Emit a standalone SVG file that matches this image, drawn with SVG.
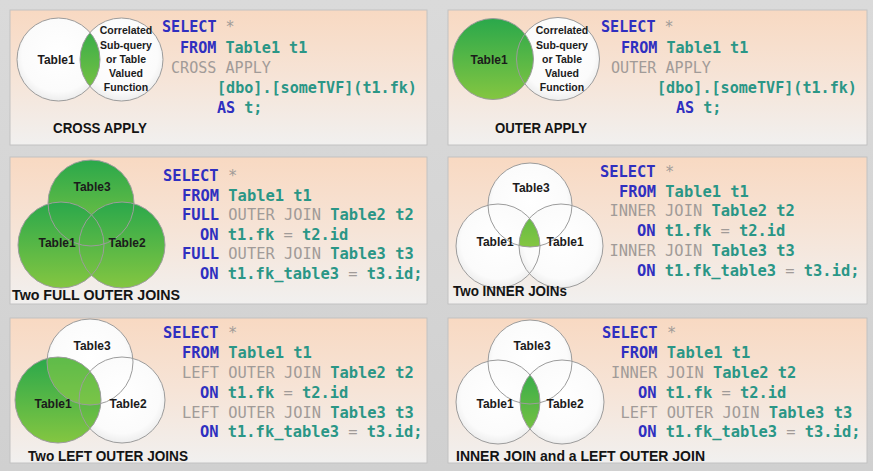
<svg xmlns="http://www.w3.org/2000/svg" width="873" height="471" viewBox="0 0 873 471">
  <style>
    .panel { fill: url(#panelFill); stroke: #c2c2c2; stroke-width: 1; }
    .ring { fill: none; stroke: #9c9c9c; stroke-width: 1; }
    .wf { fill: url(#whiteFill); }
    .gf { fill: url(#greenFill); }
    .lbl { font-family: "Liberation Sans", Arial, sans-serif; font-weight: bold; font-size: 12px; fill: #1b1b1b; text-anchor: middle; }
    .sm { font-size: 10.5px; }
    .title { font-family: "Liberation Sans", Arial, sans-serif; font-weight: bold; font-size: 15px; fill: #141414; }
    .code { font-family: "DejaVu Sans Mono", "Liberation Mono", monospace; font-size: 15.1px; }
    .code2 { font-family: "DejaVu Sans Mono", "Liberation Mono", monospace; font-size: 15.4px; }
    .k { fill: #2f2fc0; font-weight: bold; }
    .t { fill: #2a9686; font-weight: bold; }
    .g { fill: #a19b98; }
  </style>
  <defs>
    <linearGradient id="bgFill" x1="0" y1="0" x2="0" y2="1">
      <stop offset="0" stop-color="#dadada"/>
      <stop offset="1" stop-color="#d0d0d0"/>
    </linearGradient>
    <linearGradient id="panelFill" x1="0" y1="0" x2="0" y2="1">
      <stop offset="0" stop-color="#f8d9c2"/>
      <stop offset="0.5" stop-color="#f6e4d7"/>
      <stop offset="1" stop-color="#f1f0ef"/>
    </linearGradient>
    <linearGradient id="greenFill" x1="0" y1="0" x2="0" y2="1">
      <stop offset="0" stop-color="#2aa84b"/>
      <stop offset="1" stop-color="#84c641"/>
    </linearGradient>
    <radialGradient id="whiteFill" cx="0.5" cy="0.45" r="0.55">
      <stop offset="0" stop-color="#ffffff"/>
      <stop offset="0.8" stop-color="#fbfbfb"/>
      <stop offset="1" stop-color="#ededed"/>
    </radialGradient>
    <!-- clipping circles for the intersection regions -->
    <clipPath id="c1R"><circle cx="121.5" cy="59.5" r="41.5"/></clipPath>
    <clipPath id="c4L"><circle cx="498" cy="246" r="42"/></clipPath>
    <clipPath id="c4R"><circle cx="561" cy="246" r="42"/></clipPath>
    <clipPath id="c5T3"><circle cx="90" cy="362" r="43"/></clipPath>
    <clipPath id="c6R"><circle cx="562" cy="402" r="42"/></clipPath>
  </defs>

  <rect x="0" y="0" width="873" height="471" fill="url(#bgFill)"/>

  <!-- CROSS APPLY -->
  <g id="cross-apply">
    <rect class="panel" x="10" y="10" width="417" height="135"/>
    <circle class="wf" cx="58.5" cy="59.5" r="41.5"/>
    <circle class="wf" cx="121.5" cy="59.5" r="41.5"/>
    <circle class="gf" cx="58.5" cy="59.5" r="41.5" clip-path="url(#c1R)"/>
    <circle class="ring" cx="58.5" cy="59.5" r="41.5"/>
    <circle class="ring" cx="121.5" cy="59.5" r="41.5"/>
    <text class="lbl" x="56" y="64">Table1</text>
    <text class="lbl sm" x="126" y="34">Correlated</text>
    <text class="lbl sm" x="126" y="48.5">Sub-query</text>
    <text class="lbl sm" x="126" y="63">or Table</text>
    <text class="lbl sm" x="126" y="77">Valued</text>
    <text class="lbl sm" x="126" y="91">Function</text>
    <text class="title" x="53" y="133" textLength="94" lengthAdjust="spacingAndGlyphs">CROSS APPLY</text>
    <text class="code" x="162" y="32"><tspan class="k">SELECT</tspan><tspan class="g"> *</tspan></text>
    <text class="code" x="180" y="53"><tspan class="k">FROM</tspan><tspan class="t"> Table1 t1</tspan></text>
    <text class="code g" x="171" y="73">CROSS APPLY</text>
    <text class="code t" x="217" y="93">[dbo].[someTVF](t1.fk)</text>
    <text class="code" x="217" y="113"><tspan class="k">AS</tspan><tspan class="t"> t;</tspan></text>
  </g>

  <!-- OUTER APPLY -->
  <g id="outer-apply">
    <rect class="panel" x="448" y="10" width="419" height="135"/>
    <circle class="wf" cx="558" cy="59" r="41.5"/>
    <circle class="gf" cx="493" cy="59" r="40.5"/>
    <circle class="ring" cx="493" cy="59" r="40.5"/>
    <circle class="ring" cx="558" cy="59" r="41.5"/>
    <text class="lbl" x="489" y="64">Table1</text>
    <text class="lbl sm" x="562" y="34">Correlated</text>
    <text class="lbl sm" x="562" y="48.5">Sub-query</text>
    <text class="lbl sm" x="562" y="63">or Table</text>
    <text class="lbl sm" x="562" y="77">Valued</text>
    <text class="lbl sm" x="562" y="91">Function</text>
    <text class="title" x="495" y="133" textLength="92" lengthAdjust="spacingAndGlyphs">OUTER APPLY</text>
    <text class="code" x="601" y="32"><tspan class="k">SELECT</tspan><tspan class="g"> *</tspan></text>
    <text class="code" x="621" y="53"><tspan class="k">FROM</tspan><tspan class="t"> Table1 t1</tspan></text>
    <text class="code g" x="611" y="73">OUTER APPLY</text>
    <text class="code t" x="657" y="93">[dbo].[someTVF](t1.fk)</text>
    <text class="code" x="676" y="113"><tspan class="k">AS</tspan><tspan class="t"> t;</tspan></text>
  </g>

  <!-- Two FULL OUTER JOINS -->
  <g id="full-outer-joins">
    <rect class="panel" x="10" y="157" width="417" height="147"/>
    <circle class="gf" cx="91" cy="203" r="43"/>
    <circle class="gf" cx="61" cy="245" r="43"/>
    <circle class="gf" cx="122" cy="245" r="43"/>
    <circle class="ring" cx="91" cy="203" r="43"/>
    <circle class="ring" cx="61" cy="245" r="43"/>
    <circle class="ring" cx="122" cy="245" r="43"/>
    <text class="lbl" x="92" y="191">Table3</text>
    <text class="lbl" x="57" y="247">Table1</text>
    <text class="lbl" x="127" y="247">Table2</text>
    <text class="title" x="12" y="300" textLength="168" lengthAdjust="spacingAndGlyphs">Two FULL OUTER JOINS</text>
    <text class="code2" x="163" y="181"><tspan class="k">SELECT</tspan><tspan class="g"> *</tspan></text>
    <text class="code2" x="182" y="200.5"><tspan class="k">FROM</tspan><tspan class="t"> Table1 t1</tspan></text>
    <text class="code2" x="182" y="220"><tspan class="k">FULL</tspan><tspan class="g"> OUTER JOIN</tspan><tspan class="t"> Table2 t2</tspan></text>
    <text class="code2" x="200" y="239.5"><tspan class="k">ON</tspan><tspan class="t"> t1.fk</tspan><tspan class="g"> =</tspan><tspan class="t"> t2.id</tspan></text>
    <text class="code2" x="182" y="259"><tspan class="k">FULL</tspan><tspan class="g"> OUTER JOIN</tspan><tspan class="t"> Table3 t3</tspan></text>
    <text class="code2" x="200" y="278.5"><tspan class="k">ON</tspan><tspan class="t"> t1.fk_table3</tspan><tspan class="g"> =</tspan><tspan class="t"> t3.id;</tspan></text>
  </g>

  <!-- Two INNER JOINs -->
  <g id="inner-joins">
    <rect class="panel" x="448" y="157" width="419" height="147"/>
    <circle class="wf" cx="530" cy="205" r="42"/>
    <circle class="wf" cx="498" cy="246" r="42"/>
    <circle class="wf" cx="561" cy="246" r="42"/>
    <g clip-path="url(#c4L)">
      <circle class="gf" cx="530" cy="205" r="42" clip-path="url(#c4R)"/>
    </g>
    <circle class="ring" cx="530" cy="205" r="42"/>
    <circle class="ring" cx="498" cy="246" r="42"/>
    <circle class="ring" cx="561" cy="246" r="42"/>
    <text class="lbl" x="531" y="192">Table3</text>
    <text class="lbl" x="495" y="246">Table1</text>
    <text class="lbl" x="565" y="246">Table1</text>
    <text class="title" x="453" y="296" textLength="114" lengthAdjust="spacingAndGlyphs">Two INNER JOINs</text>
    <text class="code2" x="600" y="177"><tspan class="k">SELECT</tspan><tspan class="g"> *</tspan></text>
    <text class="code2" x="619" y="196.7"><tspan class="k">FROM</tspan><tspan class="t"> Table1 t1</tspan></text>
    <text class="code2" x="609.5" y="216.4"><tspan class="g">INNER JOIN</tspan><tspan class="t"> Table2 t2</tspan></text>
    <text class="code2" x="637" y="236.1"><tspan class="k">ON</tspan><tspan class="t"> t1.fk</tspan><tspan class="g"> =</tspan><tspan class="t"> t2.id</tspan></text>
    <text class="code2" x="609.5" y="255.8"><tspan class="g">INNER JOIN</tspan><tspan class="t"> Table3 t3</tspan></text>
    <text class="code2" x="637" y="275.5"><tspan class="k">ON</tspan><tspan class="t"> t1.fk_table3</tspan><tspan class="g"> =</tspan><tspan class="t"> t3.id;</tspan></text>
  </g>

  <!-- Two LEFT OUTER JOINS -->
  <g id="left-outer-joins">
    <rect class="panel" x="10" y="318" width="417" height="145"/>
    <circle class="wf" cx="90" cy="362" r="43"/>
    <circle class="wf" cx="122" cy="400" r="43"/>
    <circle class="gf" cx="58" cy="400" r="43"/>
    <!-- lighter tint where Table1 overlaps Table3 -->
    <circle cx="58" cy="400" r="43" fill="#9fd34a" fill-opacity="0.45" clip-path="url(#c5T3)"/>
    <circle class="ring" cx="90" cy="362" r="43"/>
    <circle class="ring" cx="58" cy="400" r="43"/>
    <circle class="ring" cx="122" cy="400" r="43"/>
    <text class="lbl" x="92" y="350">Table3</text>
    <text class="lbl" x="53" y="408">Table1</text>
    <text class="lbl" x="128" y="408">Table2</text>
    <text class="title" x="28" y="461" textLength="160" lengthAdjust="spacingAndGlyphs">Two LEFT OUTER JOINS</text>
    <text class="code2" x="163" y="338"><tspan class="k">SELECT</tspan><tspan class="g"> *</tspan></text>
    <text class="code2" x="182" y="358"><tspan class="k">FROM</tspan><tspan class="t"> Table1 t1</tspan></text>
    <text class="code2" x="182" y="378"><tspan class="g">LEFT OUTER JOIN</tspan><tspan class="t"> Table2 t2</tspan></text>
    <text class="code2" x="200" y="398"><tspan class="k">ON</tspan><tspan class="t"> t1.fk</tspan><tspan class="g"> =</tspan><tspan class="t"> t2.id</tspan></text>
    <text class="code2" x="182" y="418"><tspan class="g">LEFT OUTER JOIN</tspan><tspan class="t"> Table3 t3</tspan></text>
    <text class="code2" x="200" y="437"><tspan class="k">ON</tspan><tspan class="t"> t1.fk_table3</tspan><tspan class="g"> =</tspan><tspan class="t"> t3.id;</tspan></text>
  </g>

  <!-- INNER JOIN and a LEFT OUTER JOIN -->
  <g id="inner-and-left-join">
    <rect class="panel" x="448" y="318" width="419" height="145"/>
    <circle class="wf" cx="530" cy="362" r="42"/>
    <circle class="wf" cx="498" cy="402" r="42"/>
    <circle class="wf" cx="562" cy="402" r="42"/>
    <circle class="gf" cx="498" cy="402" r="42" clip-path="url(#c6R)"/>
    <circle class="ring" cx="530" cy="362" r="42"/>
    <circle class="ring" cx="498" cy="402" r="42"/>
    <circle class="ring" cx="562" cy="402" r="42"/>
    <text class="lbl" x="532" y="350">Table3</text>
    <text class="lbl" x="495" y="408">Table1</text>
    <text class="lbl" x="565" y="408">Table2</text>
    <text class="title" x="456" y="461" textLength="249" lengthAdjust="spacingAndGlyphs">INNER JOIN and a LEFT OUTER JOIN</text>
    <text class="code2" x="602" y="338"><tspan class="k">SELECT</tspan><tspan class="g"> *</tspan></text>
    <text class="code2" x="620.5" y="358"><tspan class="k">FROM</tspan><tspan class="t"> Table1 t1</tspan></text>
    <text class="code2" x="611" y="378"><tspan class="g">INNER JOIN</tspan><tspan class="t"> Table2 t2</tspan></text>
    <text class="code2" x="638" y="398"><tspan class="k">ON</tspan><tspan class="t"> t1.fk</tspan><tspan class="g"> =</tspan><tspan class="t"> t2.id</tspan></text>
    <text class="code2" x="620.5" y="418"><tspan class="g">LEFT OUTER JOIN</tspan><tspan class="t"> Table3 t3</tspan></text>
    <text class="code2" x="638" y="437"><tspan class="k">ON</tspan><tspan class="t"> t1.fk_table3</tspan><tspan class="g"> =</tspan><tspan class="t"> t3.id;</tspan></text>
  </g>
</svg>
